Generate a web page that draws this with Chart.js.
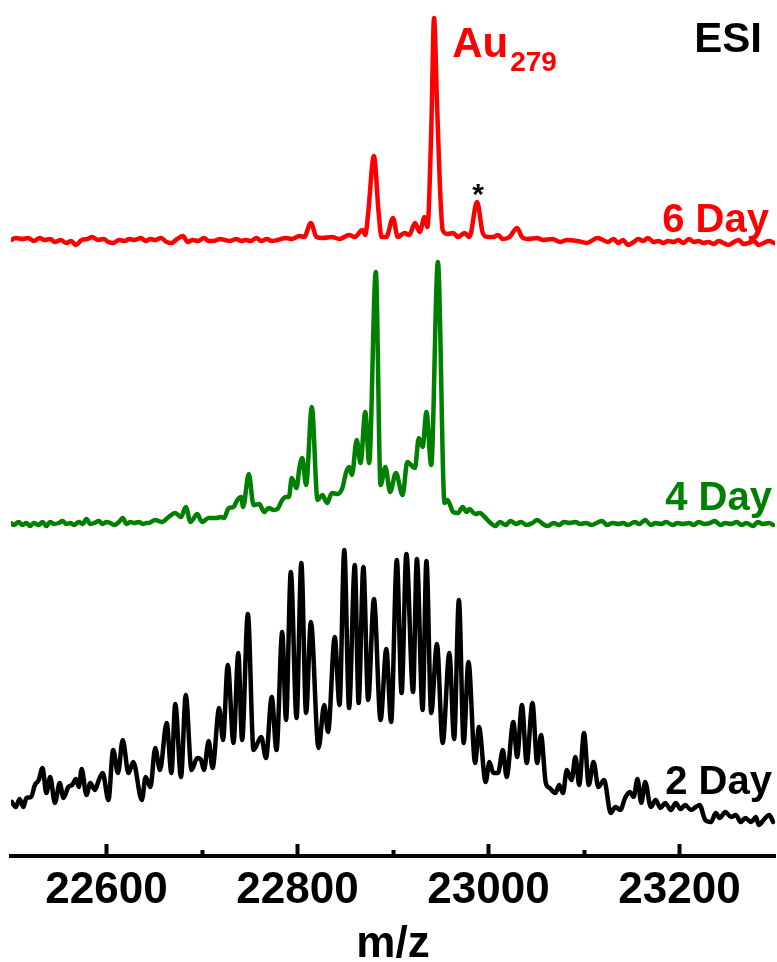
<!DOCTYPE html>
<html>
<head>
<meta charset="utf-8">
<title>ESI mass spectra of Au279</title>
<script src="https://cdn.jsdelivr.net/npm/chart.js@4.4.1/dist/chart.umd.min.js"></script>
<style>
  html, body { margin: 0; padding: 0; background: #fff; }
  #wrap { position: relative; width: 777px; height: 962px; }
</style>
</head>
<body>
<div id="wrap"><canvas id="spec"></canvas></div>
<script>
// ---- axis ticks (m/z) ----
const MAJOR_TICKS = [22600, 22800, 23000, 23200];
const MINOR_TICKS = [22700, 22900, 23100];

// ---- 2 Day spectrum (m/z, intensity a.u.) ----
const MZ_2DAY = [22501,22505,22509,22513,22516,22521,22525,22529,22533,22537,22541,22546,22551,22555,22560,22564,22568,22571,22574,22579,22583,22588,22592,22596,22602,22607,22612,22617,22623,22628,22637,22641,22646,22651,22656,22663,22668,22672,22678,22683,22689,22695,22699,22702,22707,22711,22718,22722,22727,22733,22738,22742,22748,22754,22762,22767,22773,22778,22784,22788,22793,22799,22804,22809,22814,22822,22828,22832,22839,22844,22849,22854,22860,22864,22869,22874,22880,22887,22893,22898,22904,22909,22914,22921,22925,22931,22935,22940,22946,22952,22959,22964,22969,22974,22979,22986,22990,22997,23001,23005,23010,23015,23019,23026,23030,23035,23040,23046,23051,23055,23060,23064,23070,23074,23078,23082,23087,23091,23095,23100,23105,23110,23115,23121,23128,23133,23138,23143,23148,23152,23156,23160,23164,23170,23175,23180,23185,23191,23196,23201,23206,23212,23217,23221,23227,23233,23238,23242,23248,23254,23259,23264,23269,23275,23280,23283,23288,23294,23298];
const INT_2DAY = [28,23,31,23,32,33,45,50,62,37,53,27,47,32,43,45,51,43,61,35,47,40,50,57,30,80,57,90,57,68,30,53,43,82,60,107,57,126,53,135,60,72,70,60,89,62,122,90,165,87,177,90,216,80,93,72,133,80,198,110,258,112,267,117,208,82,125,98,193,125,280,122,265,127,263,130,231,110,181,108,270,137,276,138,271,120,269,117,186,87,177,91,230,87,168,67,103,48,68,57,57,80,53,108,73,125,67,127,67,95,47,42,37,45,37,60,50,73,45,97,45,68,43,50,17,23,20,32,38,33,51,27,48,23,30,22,27,20,27,21,25,20,23,25,10,8,17,12,18,13,15,8,12,8,13,5,10,15,8];

// ---- 4 Day spectrum ----
const MZ_4DAY = [22500,22503,22508,22512,22516,22520,22524,22529,22533,22537,22541,22545,22550,22554,22558,22562,22566,22571,22575,22579,22583,22587,22592,22596,22600,22604,22608,22613,22617,22621,22625,22629,22634,22638,22642,22644,22651,22658,22665,22672,22678,22683,22688,22695,22700,22707,22715,22720,22723,22728,22733,22737,22741,22743,22749,22754,22760,22765,22770,22775,22779,22784,22788,22791,22794,22799,22802,22805,22809,22815,22821,22826,22831,22836,22842,22847,22851,22854,22857,22862,22866,22871,22875,22882,22887,22892,22897,22903,22910,22915,22923,22927,22931,22935,22940,22947,22954,22957,22963,22968,22973,22977,22980,22986,22991,22996,23001,23007,23012,23018,23023,23029,23034,23040,23046,23051,23057,23062,23068,23074,23079,23085,23091,23096,23102,23108,23113,23119,23124,23130,23136,23141,23146,23153,23158,23164,23170,23175,23181,23186,23193,23198,23203,23210,23215,23220,23226,23232,23237,23243,23248,23254,23260,23265,23270,23277,23282,23287,23294,23298];
const INT_4DAY = [2,0,3,0,2,-1,2,0,3,-1,3,1,2,4,1,2,0,3,1,6,1,2,4,1,3,2,0,3,7,1,3,2,3,1,2,2,5,3,8,12,8,18,3,11,3,7,7,8,7,17,18,25,28,18,51,20,21,13,17,15,16,25,28,28,47,37,57,67,40,118,25,30,22,32,31,37,53,58,50,85,62,113,62,253,40,58,33,52,30,63,57,87,78,113,60,263,22,25,13,12,18,13,16,11,12,8,3,-1,3,0,4,1,3,0,2,5,1,-1,2,0,3,2,3,1,2,0,2,4,0,2,1,2,0,3,1,5,0,2,1,3,0,2,1,2,0,3,1,2,4,0,2,1,3,0,2,-1,3,1,2,0];

// ---- 6 Day spectrum ----
const MZ_6DAY = [22500,22505,22512,22518,22524,22530,22535,22541,22546,22552,22558,22563,22568,22574,22580,22585,22591,22597,22602,22607,22613,22619,22624,22629,22636,22641,22646,22651,22657,22663,22668,22674,22680,22685,22690,22696,22702,22707,22712,22719,22724,22729,22736,22741,22746,22751,22757,22762,22768,22773,22779,22788,22794,22802,22807,22814,22820,22826,22836,22844,22854,22860,22868,22871,22874,22880,22885,22888,22893,22900,22905,22912,22917,22923,22928,22933,22936,22940,22943,22946,22949,22952,22957,22963,22968,22975,22980,22988,22994,22999,23005,23010,23015,23022,23030,23035,23041,23051,23057,23067,23075,23082,23093,23103,23114,23120,23125,23131,23136,23141,23146,23152,23157,23162,23167,23173,23178,23183,23188,23194,23199,23204,23210,23215,23220,23225,23230,23236,23241,23246,23251,23257,23262,23267,23272,23278,23283,23288,23294,23299];
const INT_6DAY = [3,5,4,5,2,5,3,4,1,3,0,2,-2,3,4,6,3,4,1,0,3,2,4,3,5,2,4,3,5,1,0,4,7,1,3,2,5,2,2,4,3,2,4,2,3,2,5,2,4,2,3,5,4,7,6,20,6,5,6,4,8,6,13,8,30,87,30,6,6,25,6,10,8,20,11,26,16,110,225,143,60,13,9,10,6,10,6,41,10,6,6,8,4,6,15,6,4,5,3,4,1,3,2,0,5,3,1,4,0,3,-2,1,4,2,5,1,2,0,2,1,3,0,4,1,2,0,1,-1,2,0,-2,1,3,-1,0,2,-2,0,2,0];

// vertical stacking of the three traces (a.u.)
const STACK_OFFSET = { day2: 26, day4: 331, day6: 613 };
const Y_RANGE = [0, 856];

const FONT = '"Liberation Sans", Arial, "DejaVu Sans", sans-serif';

function toPoints(mz, inten, offset) {
  return mz.map((m, i) => ({ x: m, y: offset + inten[i] }));
}

function traceStyle(color) {
  return {
    borderColor: color,
    backgroundColor: color,
    borderWidth: 4.5,
    pointRadius: 0,
    pointHoverRadius: 0,
    fill: false,
    cubicInterpolationMode: 'monotone',
    borderJoinStyle: 'round',
    borderCapStyle: 'round',
    xAxisID: 'x',
    yAxisID: 'y'
  };
}

// text labels drawn on top of the traces
const labelPlugin = {
  id: 'specLabels',
  afterDatasetsDraw(chart) {
    const { ctx, chartArea } = chart;
    const xs = chart.scales.x, ys = chart.scales.y;
    ctx.save();
    ctx.textBaseline = 'alphabetic';

    // instrument tag
    ctx.font = 'bold 42px ' + FONT;
    ctx.fillStyle = '#000000';
    ctx.textAlign = 'right';
    ctx.fillText('ESI', chartArea.right - 13, ys.getPixelForValue(804));

    // trace names
    ctx.font = 'bold 40px ' + FONT;
    ctx.fillStyle = '#ff0000';
    ctx.fillText('6 Day', chartArea.right - 6, ys.getPixelForValue(624));
    ctx.fillStyle = '#008000';
    ctx.fillText('4 Day', chartArea.right - 3, ys.getPixelForValue(346));
    ctx.fillStyle = '#000000';
    ctx.fillText('2 Day', chartArea.right - 3, ys.getPixelForValue(62));

    // cluster assignment next to the main peak
    ctx.textAlign = 'left';
    ctx.fillStyle = '#ff0000';
    const ax = xs.getPixelForValue(22962);
    const ay = ys.getPixelForValue(799);
    ctx.font = 'bold 42px ' + FONT;
    ctx.fillText('Au', ax, ay);
    const w = ctx.measureText('Au').width;
    ctx.font = 'bold 28px ' + FONT;
    ctx.fillText('279', ax + w + 2, ay + 14);

    // marker above the side peak
    ctx.fillStyle = '#000000';
    ctx.textAlign = 'center';
    ctx.font = 'bold 30px ' + FONT;
    ctx.fillText('*', xs.getPixelForValue(22989), ys.getPixelForValue(652));
    ctx.restore();
  }
};

new Chart(document.getElementById('spec'), {
  type: 'line',
  data: {
    datasets: [
      Object.assign({ label: '2 Day', data: toPoints(MZ_2DAY, INT_2DAY, STACK_OFFSET.day2) }, traceStyle('#000000')),
      Object.assign({ label: '4 Day', data: toPoints(MZ_4DAY, INT_4DAY, STACK_OFFSET.day4) }, traceStyle('#008000')),
      Object.assign({ label: '6 Day', data: toPoints(MZ_6DAY, INT_6DAY, STACK_OFFSET.day6) }, traceStyle('#ff0000'))
    ]
  },
  options: {
    responsive: true,
    maintainAspectRatio: false,
    animation: false,
    events: [],
    layout: { padding: { left: 11, right: 2, top: 0, bottom: 0 } },
    plugins: { legend: { display: false }, tooltip: { enabled: false }, title: { display: false } },
    scales: {
      x: {
        type: 'linear',
        position: 'bottom',
        min: 22500,
        max: 23300,
        afterBuildTicks: (s) => { s.ticks = MAJOR_TICKS.map(v => ({ value: v })); },
        afterFit: (s) => { s.height = 106; },
        ticks: {
          color: '#000000',
          font: { family: FONT, size: 44, weight: 'bold' },
          padding: 20,
          maxRotation: 0,
          autoSkip: false,
          callback: (v) => String(v)
        },
        grid: {
          drawOnChartArea: false,
          drawTicks: true,
          tickLength: -12,
          tickWidth: 4,
          tickColor: '#000000'
        },
        border: { display: true, width: 4, color: '#000000' },
        title: {
          display: true,
          text: 'm/z',
          color: '#000000',
          font: { family: FONT, size: 44, weight: 'bold', lineHeight: 0.8 },
          padding: { top: 0, bottom: 0 }
        }
      },
      x2: {
        type: 'linear',
        axis: 'x',
        position: { y: 0 },
        min: 22500,
        max: 23300,
        afterBuildTicks: (s) => { s.ticks = MINOR_TICKS.map(v => ({ value: v })); },
        ticks: { display: false },
        grid: {
          drawOnChartArea: false,
          drawTicks: true,
          tickLength: -6,
          tickWidth: 4,
          tickColor: '#000000'
        },
        border: { display: false }
      },
      y: {
        type: 'linear',
        display: false,
        min: Y_RANGE[0],
        max: Y_RANGE[1]
      }
    }
  },
  plugins: [labelPlugin]
});
</script>
</body>
</html>
